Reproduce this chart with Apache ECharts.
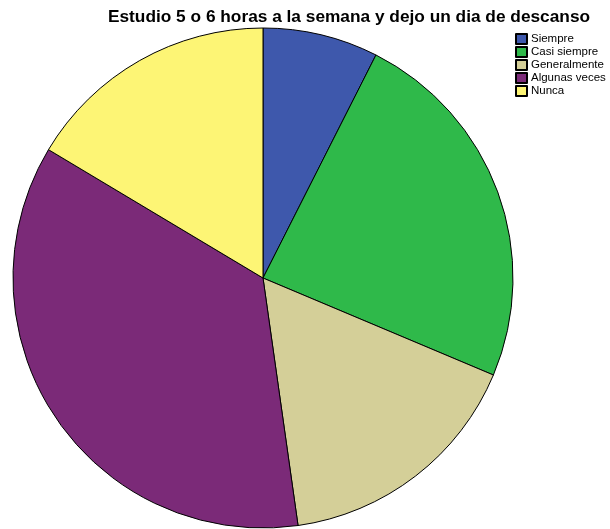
<!DOCTYPE html>
<html><head><meta charset="utf-8">
<script src="https://cdn.jsdelivr.net/npm/echarts@6/dist/echarts.min.js"></script>
<style>html,body{margin:0;padding:0;background:#fff}#c{width:610px;height:529px}</style>
</head><body><div id="c"></div>
<script>
const titleText = "Estudio 5 o 6 horas a la semana y dejo un dia de descanso";
const categories = ["Siempre", "Casi siempre", "Generalmente", "Algunas veces", "Nunca"];
const values = [5, 16, 11, 24, 11];
const colors = ["#3e58ac", "#2fb94a", "#d4cf98", "#7b2a78", "#fdf575"];

const chart = echarts.init(document.getElementById('c'), null, {renderer: 'canvas'});
chart.setOption({
  animation: false,
  backgroundColor: '#fff',
  title: {
    text: titleText, left: 344, top: 4, textAlign: 'center',
    textStyle: {fontFamily: 'Liberation Sans, Arial, sans-serif', fontSize: 17.3, fontWeight: 'bold', color: '#000'}
  },
  legend: {
    orient: 'vertical', left: 510, top: 28, icon: 'rect',
    itemWidth: 11, itemHeight: 10, itemGap: 1,
    textStyle: {fontFamily: 'Liberation Sans, Arial, sans-serif', fontSize: 11.5, color: '#000', padding: [0,0,0,-1]},
    data: categories
  },
  series: [{
    type: 'pie',
    center: [263, 278],
    radius: 250,
    startAngle: 90,
    clockwise: true,
    label: {show: false},
    labelLine: {show: false},
    emphasis: {disabled: true},
    itemStyle: {borderColor: '#000', borderWidth: 1},
    data: categories.map((c, i) => ({name: c, value: values[i], itemStyle: {color: colors[i]}}))
  }]
});
</script></body></html>
